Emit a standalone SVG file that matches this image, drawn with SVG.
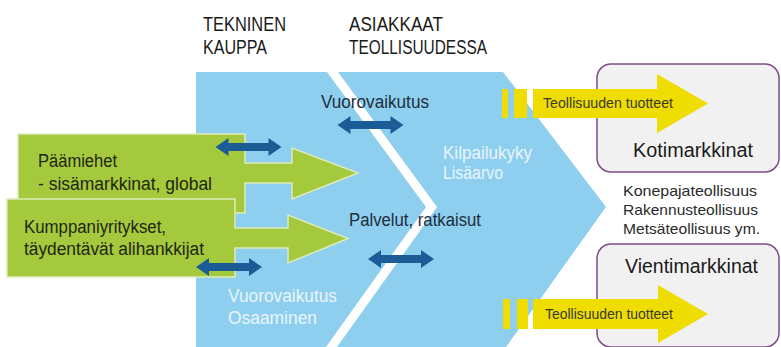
<svg xmlns="http://www.w3.org/2000/svg" width="781" height="347" viewBox="0 0 781 347">
<defs>
<style>
text{font-family:"Liberation Sans",Arial,sans-serif}
.hdr{font-size:20px;fill:#1a1a1a}
.dark{font-size:18px;fill:#1f2e3d}
.light{font-size:18px;fill:#eaf5fc}
.grn{font-size:18px;fill:#1e2614}
.yel{font-size:15px;fill:#3a3a2a}
.mk{font-size:20px;fill:#1a1a1a}
.lst{font-size:15px;fill:#2a2a2a}
.green{fill:#a5c93c;stroke:#dcebb8;stroke-width:1.5}
.yellow{fill:#efdc00}
.mbox{fill:#f2f1f2;stroke:#7e4c86;stroke-width:1.5}
.darr{fill:#1b5c96}
</style>
<path id="dbl" d="M-33,0 L-20,-9 L-20,-4 L20,-4 L20,-9 L33,0 L20,9 L20,4 L-20,4 L-20,9 Z"/>
</defs>

<g id="chevrons">
<polygon points="196,72 503,72 606,207 506,347 196,347" fill="#8ecfef"/>
<polygon points="327,72 338,72 437,207 337,347 326,347 426,207" fill="#ffffff"/>
</g>

<g id="header-tekninen">
<text class="hdr" x="203" y="31" textLength="83" lengthAdjust="spacingAndGlyphs">TEKNINEN</text>
<text class="hdr" x="203" y="54" textLength="64" lengthAdjust="spacingAndGlyphs">KAUPPA</text>
</g>
<g id="header-asiakkaat">
<text class="hdr" x="349" y="31" textLength="94" lengthAdjust="spacingAndGlyphs">ASIAKKAAT</text>
<text class="hdr" x="349" y="54" textLength="138" lengthAdjust="spacingAndGlyphs">TEOLLISUUDESSA</text>
</g>

<g id="kotimarkkinat">
<rect class="mbox" x="597" y="64" width="182" height="108" rx="14"/>
<text class="mk" x="633" y="157" textLength="120" lengthAdjust="spacingAndGlyphs">Kotimarkkinat</text>
</g>
<g id="vientimarkkinat">
<rect class="mbox" x="597" y="244" width="182" height="103" rx="14"/>
<text class="mk" x="625" y="273" textLength="133" lengthAdjust="spacingAndGlyphs">Vientimarkkinat</text>
</g>

<g id="teollisuudet">
<text class="lst" x="623" y="196" textLength="134" lengthAdjust="spacingAndGlyphs">Konepajateollisuus</text>
<text class="lst" x="623" y="215" textLength="135" lengthAdjust="spacingAndGlyphs">Rakennusteollisuus</text>
<text class="lst" x="623" y="234" textLength="137" lengthAdjust="spacingAndGlyphs">Metsäteollisuus ym.</text>
</g>

<g id="tuotteet-koti">
<rect class="yellow" x="502" y="89" width="6" height="29"/>
<rect class="yellow" x="514" y="89" width="13" height="29"/>
<polygon class="yellow" points="533,89 657,89 657,74 708,103.5 657,133 657,118 533,118"/>
<text class="yel" x="543" y="108" textLength="130" lengthAdjust="spacingAndGlyphs">Teollisuuden tuotteet</text>
</g>
<g id="tuotteet-vienti">
<rect class="yellow" x="503" y="299" width="7" height="30"/>
<rect class="yellow" x="517" y="299" width="11" height="30"/>
<polygon class="yellow" points="533,299 658,299 658,285 708,314 658,343 658,329 533,329"/>
<text class="yel" x="545" y="319" textLength="128" lengthAdjust="spacingAndGlyphs">Teollisuuden tuotteet</text>
</g>

<g id="paamiehet">
<polygon class="green" points="18,134 245,134 245,163 292,163 292,148 358,173 292,199 292,183 245,183 245,213 18,213"/>
<text class="grn" x="38" y="167" textLength="79" lengthAdjust="spacingAndGlyphs">Päämiehet</text>
<text class="grn" x="38" y="190" textLength="174" lengthAdjust="spacingAndGlyphs">- sisämarkkinat, global</text>
</g>
<g id="kumppaniyritykset">
<polygon class="green" points="7,199 235,199 235,228 288,228 288,215 348,238.5 288,263 288,248 235,248 235,277 7,277"/>
<text class="grn" x="24" y="233" textLength="142" lengthAdjust="spacingAndGlyphs">Kumppaniyritykset,</text>
<text class="grn" x="24" y="255" textLength="180" lengthAdjust="spacingAndGlyphs">täydentävät alihankkijat</text>
</g>

<g id="labels">
<text class="dark" x="321" y="108" textLength="108" lengthAdjust="spacingAndGlyphs">Vuorovaikutus</text>
<text class="light" x="443" y="159" textLength="89" lengthAdjust="spacingAndGlyphs">Kilpailukyky</text>
<text class="light" x="443" y="179" textLength="60" lengthAdjust="spacingAndGlyphs">Lisäarvo</text>
<text class="dark" x="349" y="226" textLength="132" lengthAdjust="spacingAndGlyphs">Palvelut, ratkaisut</text>
<text class="light" x="228" y="302" textLength="109" lengthAdjust="spacingAndGlyphs">Vuorovaikutus</text>
<text class="light" x="228" y="324" textLength="89" lengthAdjust="spacingAndGlyphs">Osaaminen</text>
</g>

<g id="connectors">
<use href="#dbl" class="darr" transform="translate(248.5,147)"/>
<use href="#dbl" class="darr" transform="translate(370.5,125)"/>
<use href="#dbl" class="darr" transform="translate(229,267)"/>
<use href="#dbl" class="darr" transform="translate(401,259)"/>
</g>
</svg>
